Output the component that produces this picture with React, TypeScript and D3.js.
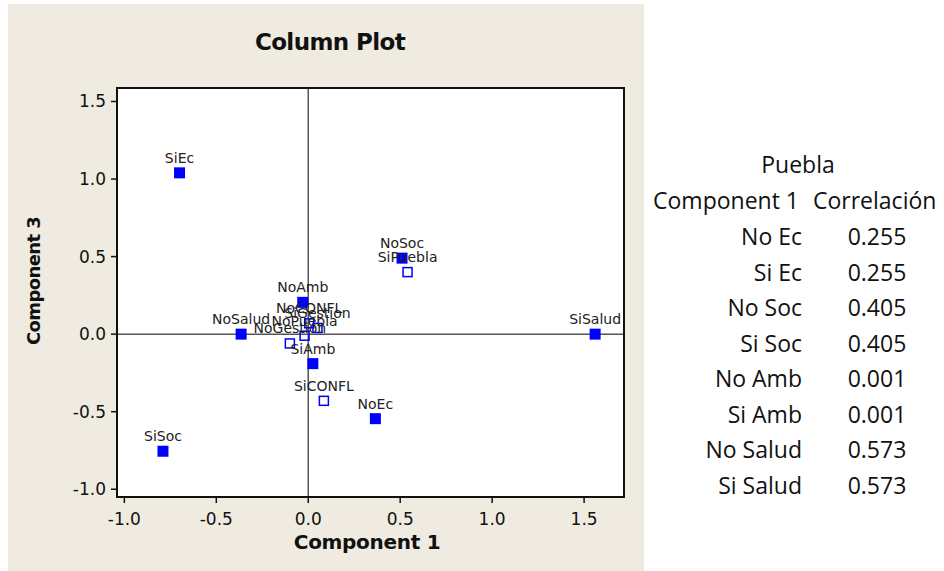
import React from "react";
import * as d3 from "d3";

// ---- data ----
const activeNames = ["SiEc", "SiSoc", "NoSalud", "NoAmb", "SiAmb", "NoEc", "NoSoc", "SiSalud"];
const activeComp1 = [-0.7, -0.79, -0.365, -0.03, 0.025, 0.365, 0.51, 1.56];
const activeComp3 = [1.04, -0.755, 0.0, 0.205, -0.19, -0.545, 0.49, 0.0];

const suppNames = ["SiPuebla", "SiCONFL", "NoCONFL", "SiGestion", "NoPuebla", "NoGestion"];
const suppComp1 = [0.54, 0.085, 0.005, 0.05, -0.02, -0.1];
const suppComp3 = [0.4, -0.43, 0.07, 0.04, -0.01, -0.06];

const xTicks = [-1.0, -0.5, 0.0, 0.5, 1.0, 1.5];
const yTicks = [-1.0, -0.5, 0.0, 0.5, 1.0, 1.5];

const tableTitle = "Puebla";
const tableHeaders = ["Component 1", "Correlación"];
const tableVars = ["No Ec", "Si Ec", "No Soc", "Si Soc", "No Amb", "Si Amb", "No Salud", "Si Salud"];
const tableCorr = [0.255, 0.255, 0.405, 0.405, 0.001, 0.001, 0.573, 0.573];

// ---- layout ----
const W = 944;
const H = 571;
const frame = { left: 117, top: 88, right: 624, bottom: 497 };

export default function App() {
  const x = d3.scaleLinear().domain([-1.04, 1.717]).range([frame.left, frame.right]);
  const y = d3.scaleLinear().domain([-1.05, 1.587]).range([frame.bottom, frame.top]);
  const fmt = (v: number) => d3.format(".1f")(v).replace("\u2212", "-");
  const fmt3 = d3.format(".3f");
  const tickFont = "DejaVu Sans, Verdana, sans-serif";
  const tableFont = "Open Sans, sans-serif";
  const blue = "#0000ff";

  const active = activeNames.map((n, i) => ({ n, cx: x(activeComp1[i]), cy: y(activeComp3[i]) }));
  const supp = suppNames.map((n, i) => ({ n, cx: x(suppComp1[i]), cy: y(suppComp3[i]) }));

  const rowY = d3.scaleLinear().domain([0, tableVars.length - 1]).range([237, 486]);

  return (
    <svg
      width={W}
      height={H}
      style={{ position: "absolute", left: 0, top: 0, background: "#ffffff" }}
    >
      <rect x={8} y={4} width={636} height={567} fill="#efebe1" />
      <text
        x={330}
        y={50}
        textAnchor="middle"
        fontFamily={tickFont}
        fontWeight="bold"
        fontSize={23}
        letterSpacing={-0.6}
        fill="#111"
      >
        Column Plot
      </text>
      <rect
        x={frame.left}
        y={frame.top}
        width={frame.right - frame.left}
        height={frame.bottom - frame.top}
        fill="#ffffff"
      />
      {/* reference lines */}
      <line x1={x(0)} x2={x(0)} y1={frame.top} y2={frame.bottom} stroke="#555" strokeWidth={1.5} />
      <line x1={frame.left} x2={frame.right} y1={y(0)} y2={y(0)} stroke="#555" strokeWidth={1.5} />

      {/* points */}
      {active.map((p) => (
        <rect key={p.n} x={p.cx - 5.5} y={p.cy - 5.5} width={11} height={11} fill={blue} />
      ))}
      {supp.map((p) => (
        <rect
          key={p.n}
          x={p.cx - 4.5}
          y={p.cy - 4.5}
          width={9}
          height={9}
          fill="none"
          stroke={blue}
          strokeWidth={1.5}
        />
      ))}
      {[...active, ...supp].map((p) => (
        <text
          key={"l" + p.n}
          x={p.cx}
          y={p.cy - 10}
          textAnchor="middle"
          fontFamily={tickFont}
          fontSize={14}
          fill="#222"
        >
          {p.n}
        </text>
      ))}

      {/* frame */}
      <rect
        x={frame.left}
        y={frame.top}
        width={frame.right - frame.left}
        height={frame.bottom - frame.top}
        fill="none"
        stroke="#111"
        strokeWidth={2}
      />
      {/* x ticks */}
      {xTicks.map((t) => (
        <g key={"x" + t}>
          <line x1={x(t)} x2={x(t)} y1={frame.bottom} y2={frame.bottom + 6} stroke="#111" strokeWidth={1.5} />
          <text
            x={x(t)}
            y={frame.bottom + 28}
            textAnchor="middle"
            fontFamily={tickFont}
            fontSize={17}
            fill="#111"
          >
            {fmt(t)}
          </text>
        </g>
      ))}
      {/* y ticks */}
      {yTicks.map((t) => (
        <g key={"y" + t}>
          <line x1={frame.left - 6} x2={frame.left} y1={y(t)} y2={y(t)} stroke="#111" strokeWidth={1.5} />
          <text
            x={frame.left - 11}
            y={y(t) + 6}
            textAnchor="end"
            fontFamily={tickFont}
            fontSize={17}
            fill="#111"
          >
            {fmt(t)}
          </text>
        </g>
      ))}
      <text
        x={367}
        y={549}
        textAnchor="middle"
        fontFamily={tickFont}
        fontWeight="bold"
        fontSize={20}
        letterSpacing={-0.3}
        fill="#111"
      >
        Component 1
      </text>
      <text
        transform={`translate(40, ${281}) rotate(-90)`}
        textAnchor="middle"
        fontFamily={tickFont}
        fontWeight="bold"
        fontSize={18}
        letterSpacing={-0.6}
        fill="#111"
      >
        Component 3
      </text>

      {/* table */}
      <text x={798} y={173} textAnchor="middle" fontFamily={tableFont} fontSize={23} fill="#111">
        {tableTitle}
      </text>
      <text x={799} y={209} textAnchor="end" fontFamily={tableFont} fontSize={23} fill="#111">
        {tableHeaders[0]}
      </text>
      <text x={813} y={209} textAnchor="start" fontFamily={tableFont} fontSize={23} fill="#111">
        {tableHeaders[1]}
      </text>
      {tableVars.map((v, i) => (
        <g key={v}>
          <text x={802} y={rowY(i) + 8} textAnchor="end" fontFamily={tableFont} fontSize={23} fill="#111">
            {v}
          </text>
          <text x={877} y={rowY(i) + 8} textAnchor="middle" fontFamily={tableFont} fontSize={23} fill="#111">
            {fmt3(tableCorr[i])}
          </text>
        </g>
      ))}
    </svg>
  );
}
